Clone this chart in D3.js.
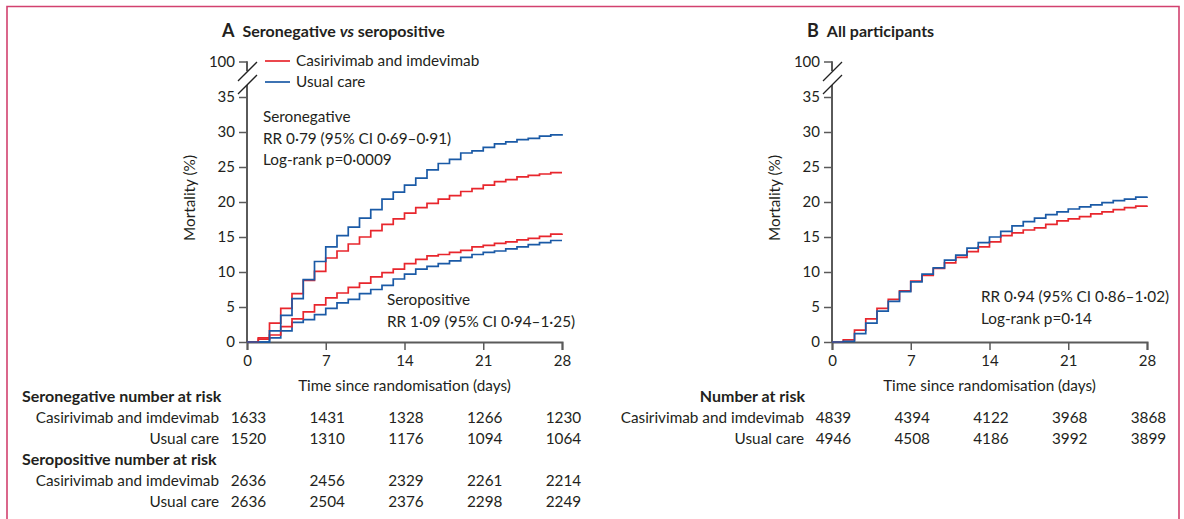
<!DOCTYPE html>
<html>
<head>
<meta charset="utf-8">
<script src="https://cdn.jsdelivr.net/npm/d3@7/dist/d3.min.js"></script>
<style>
  html, body { margin: 0; padding: 0; background: #fff; }
  svg { display: block; }
  text { font-family: Lato, "Open Sans", sans-serif; fill: #231f20; }
</style>
</head>
<body>
<svg id="chart" width="1184" height="519"></svg>
<script>
// ---------- DATA ----------
const days = [0,1,2,3,4,5,6,7,8,9,10,11,12,13,14,15,16,17,18,19,20,21,22,23,24,25,26,27,28];
const seronegUsual = [0,0,1.6,3.8,6.2,8.9,11.5,13.6,15.2,16.4,17.7,18.9,20.4,21.4,22.4,23.4,24.6,25.5,26.1,27.0,27.3,27.8,28.3,28.6,28.9,29.1,29.4,29.6,29.7];
const seronegCasi  = [0,0.6,2.7,4.8,6.9,8.8,10.1,12.0,13.0,14.0,15.0,15.9,16.8,17.6,18.4,19.2,19.8,20.4,20.9,21.5,21.9,22.4,22.9,23.2,23.6,23.8,24.0,24.2,24.2];
const seroposCasi  = [0,0.4,1.0,2.2,3.3,4.3,5.3,6.3,7.0,7.8,8.4,9.3,9.9,10.4,11.2,11.8,12.3,12.5,12.8,13.1,13.6,13.8,14.1,14.3,14.6,14.8,15.1,15.4,15.5];
const seroposUsual = [0,0,0.6,1.6,2.8,3.2,3.9,4.8,5.6,6.1,6.9,7.5,8.1,9.0,9.7,10.4,10.8,11.2,11.6,12.1,12.5,12.8,13.0,13.3,13.6,13.9,14.2,14.5,14.5];
const allCasi      = [0,0.3,1.7,3.3,4.8,6.1,7.3,8.7,9.5,10.5,11.3,12.1,12.9,13.6,14.3,15.2,15.6,16.0,16.3,16.8,17.3,17.6,17.9,18.3,18.6,18.9,19.2,19.4,19.5];
const allUsual     = [0,0.1,1.2,2.7,4.4,5.8,7.2,8.6,9.7,10.6,11.7,12.4,13.4,14.2,15.0,15.8,16.6,17.2,17.7,18.2,18.6,19.0,19.3,19.6,19.9,20.2,20.4,20.7,20.8];

const xTicks = [0,7,14,21,28];
const yTicks = [0,5,10,15,20,25,30,35];
const yBreakLabel = "100";

const seronegRiskCasi  = [1633,1431,1328,1266,1230];
const seronegRiskUsual = [1520,1310,1176,1094,1064];
const seroposRiskCasi  = [2636,2456,2329,2261,2214];
const seroposRiskUsual = [2636,2504,2376,2298,2249];
const allRiskCasi      = [4839,4394,4122,3968,3868];
const allRiskUsual     = [4946,4508,4186,3992,3899];

const seriesNames = ["Casirivimab and imdevimab", "Usual care"];
// ---------- STYLE ----------
const RED = "#e8262d", BLUE = "#1a5aa6";
const AXIS = "#5a5a5a";
const FS = 15.3;
const FT = 15;

const svg = d3.select("#chart");

// border
svg.append("path")
  .attr("d", "M7,519 L7,6.5 L1179,6.5 L1179,519")
  .attr("fill", "none").attr("stroke", "#d2416f").attr("stroke-width", 1.6);

function panel(opts) {
  const x = d3.scaleLinear().domain([0, 28]).range([opts.x0, opts.x0 + 315]);
  const y = d3.scaleLinear().domain([0, 35]).range([342, 97]);
  const g = svg.append("g");
  const yTop = 62;

  // title
  const t = g.append("text").attr("x", opts.x0 - 25).attr("y", 37)
    .attr("font-size", 16).attr("font-weight", "bold");
  t.append("tspan").text(opts.letter).attr("font-size", 18);
  opts.title.forEach(p => {
    const s = t.append("tspan").text(p.t);
    if (p.italic) s.attr("font-style", "italic");
  });
  t.selectAll("tspan").filter((d, i) => i === 1).attr("dx", 8);

  // y axis
  const ya = g.append("g").attr("transform", `translate(${opts.x0},0)`)
    .call(d3.axisLeft(y).tickValues(yTicks).tickSize(8).tickPadding(4));
  ya.select(".domain").remove();
  ya.selectAll(".tick line").attr("stroke", AXIS).attr("stroke-width", 1.5);
  ya.selectAll(".tick text").attr("font-size", FT).attr("font-family", "Lato").attr("fill", "#333");
  // axis line segments with break
  g.append("line").attr("x1", opts.x0).attr("x2", opts.x0).attr("y1", 85).attr("y2", 342.8)
    .attr("stroke", AXIS).attr("stroke-width", 2);
  g.append("line").attr("x1", opts.x0).attr("x2", opts.x0).attr("y1", yTop - 0.8).attr("y2", 71)
    .attr("stroke", AXIS).attr("stroke-width", 2);
  g.append("line").attr("x1", opts.x0 - 8).attr("x2", opts.x0).attr("y1", yTop).attr("y2", yTop)
    .attr("stroke", AXIS).attr("stroke-width", 1.5);
  g.append("text").attr("x", opts.x0 - 12).attr("y", yTop).attr("dy", "0.32em")
    .attr("text-anchor", "end").attr("font-size", FT).attr("fill", "#333").text(yBreakLabel);
  [[0, 0], [0, 13]].forEach(([dx, dy]) => {
    g.append("line")
      .attr("x1", opts.x0 - 9).attr("y1", 81 + dy)
      .attr("x2", opts.x0 + 10).attr("y2", 62 + dy)
      .attr("stroke", "#222").attr("stroke-width", 1.3);
  });

  // x axis
  const xa = g.append("g").attr("transform", "translate(0,342)")
    .call(d3.axisBottom(x).tickValues(xTicks).tickSize(8).tickPadding(5));
  xa.select(".domain").attr("stroke", AXIS).attr("stroke-width", 2);
  xa.selectAll(".tick line").attr("stroke", AXIS).attr("stroke-width", 1.5);
  xa.selectAll(".tick text").attr("font-size", FT).attr("font-family", "Lato").attr("fill", "#333");

  g.append("text").attr("x", (opts.x0 + opts.x0 + 315) / 2).attr("y", 391)
    .attr("text-anchor", "middle").attr("font-size", FS).text("Time since randomisation (days)");
  g.append("text").attr("transform", `translate(${opts.x0 - 52},${198}) rotate(-90)`)
    .attr("text-anchor", "middle").attr("font-size", FS).text("Mortality (%)");

  // curves
  const line = d3.line().x((d, i) => x(days[i])).y(d => y(d)).curve(d3.curveStepAfter);
  opts.curves.forEach(c => {
    g.append("path").datum(c.data).attr("d", line)
      .attr("fill", "none").attr("stroke", c.color).attr("stroke-width", 1.7)
      .attr("stroke-linejoin", "miter");
  });

  // annotations
  opts.notes.forEach(n => {
    n.lines.forEach((l, i) => {
      g.append("text").attr("x", n.x).attr("y", n.y + i * 21.5).attr("font-size", FS).text(l);
    });
  });

  // risk table
  let row = 0;
  const rowY = r => 402 + r * 21;
  opts.risk.forEach(block => {
    g.append("text").attr("x", block.headX).attr("y", rowY(row))
      .attr("text-anchor", block.headAnchor).attr("font-size", 16).attr("font-weight", "bold")
      .text(block.head);
    row++;
    block.rows.forEach(r => {
      g.append("text").attr("x", opts.x0 - 28).attr("y", rowY(row))
        .attr("text-anchor", "end").attr("font-size", FS).text(r.name);
      xTicks.forEach((tk, i) => {
        g.append("text").attr("x", x(tk) + 1.5).attr("y", rowY(row))
          .attr("text-anchor", "middle").attr("font-size", FS).text(r.vals[i]);
      });
      row++;
    });
  });
  return { x, y, g };
}

// Panel A
const A = panel({
  x0: 247, letter: "A",
  title: [{ t: "Seronegative " }, { t: "vs", italic: true }, { t: " seropositive" }],
  curves: [
    { data: seroposUsual, color: BLUE },
    { data: seroposCasi, color: RED },
    { data: seronegCasi, color: RED },
    { data: seronegUsual, color: BLUE }
  ],
  notes: [
    { x: 263, y: 122, lines: ["Seronegative", "RR 0·79 (95% CI 0·69–0·91)", "Log-rank p=0·0009"] },
    { x: 387, y: 305, lines: ["Seropositive", "RR 1·09 (95% CI 0·94–1·25)"] }
  ],
  risk: [
    { head: "Seronegative number at risk", headX: 22, headAnchor: "start",
      rows: [{ name: seriesNames[0], vals: seronegRiskCasi }, { name: seriesNames[1], vals: seronegRiskUsual }] },
    { head: "Seropositive number at risk", headX: 22, headAnchor: "start",
      rows: [{ name: seriesNames[0], vals: seroposRiskCasi }, { name: seriesNames[1], vals: seroposRiskUsual }] }
  ]
});

// legend (panel A)
[[RED, 61, seriesNames[0]], [BLUE, 82, seriesNames[1]]].forEach(([c, yy, name]) => {
  svg.append("line").attr("x1", 265).attr("x2", 290).attr("y1", yy).attr("y2", yy)
    .attr("stroke", c).attr("stroke-width", 1.7);
  svg.append("text").attr("x", 296).attr("y", yy).attr("dy", "0.35em")
    .attr("font-size", FS).text(name);
});

// Panel B
const B = panel({
  x0: 832, letter: "B",
  title: [{ t: "All participants" }],
  curves: [
    { data: allCasi, color: RED },
    { data: allUsual, color: BLUE }
  ],
  notes: [
    { x: 981, y: 302, lines: ["RR 0·94 (95% CI 0·86–1·02)", "Log-rank p=0·14"] }
  ],
  risk: [
    { head: "Number at risk", headX: 805, headAnchor: "end",
      rows: [{ name: seriesNames[0], vals: allRiskCasi }, { name: seriesNames[1], vals: allRiskUsual }] }
  ]
});
</script>
</body>
</html>
